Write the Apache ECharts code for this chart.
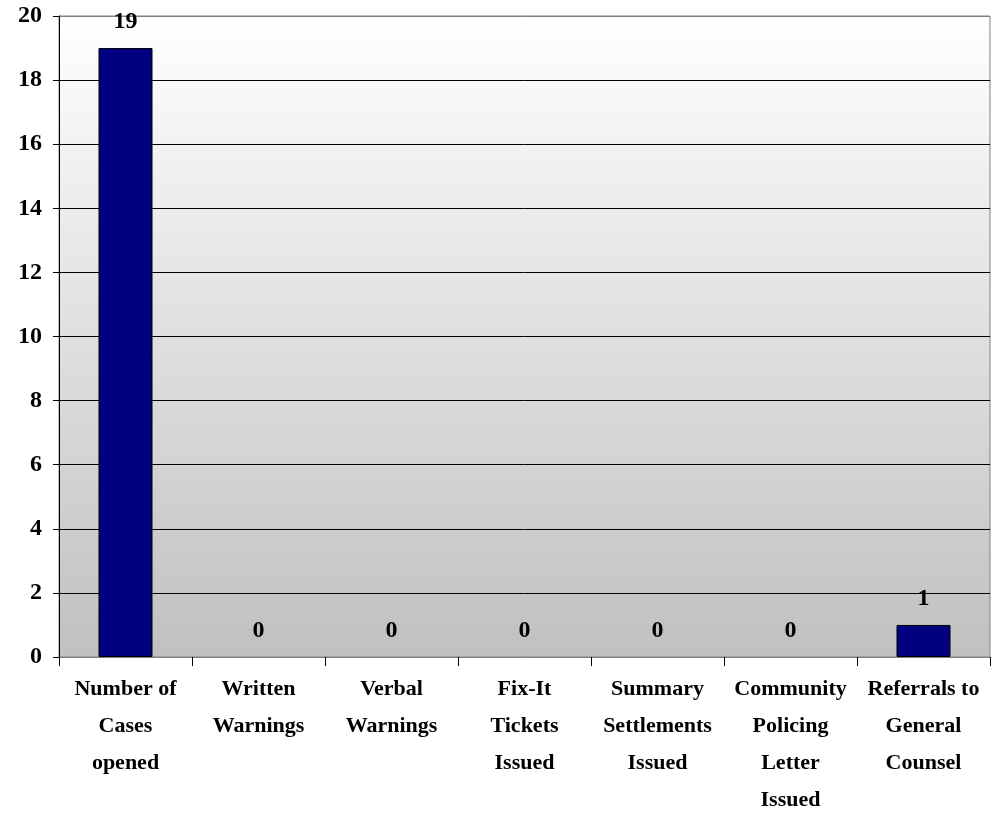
<!DOCTYPE html>
<html><head><meta charset="utf-8">
<script src="https://cdn.jsdelivr.net/npm/echarts@6/dist/echarts.min.js"></script>
<style>html,body{margin:0;padding:0;background:#fff}#c{width:1004px;height:813px}</style>
</head><body><div id="c"></div>
<script>
var categories = ["Number of\nCases\nopened","Written\nWarnings","Verbal\nWarnings","Fix-It\nTickets\nIssued","Summary\nSettlements\nIssued","Community\nPolicing\nLetter\nIssued","Referrals to\nGeneral\nCounsel"];
var values = [19,0,0,0,0,0,1];
var yTicks = [0,2,4,6,8,10,12,14,16,18,20];

var font = 'Liberation Serif';
var chart = echarts.init(document.getElementById('c'));
var splitColors = yTicks.map(function(v,i){ return (i===0||i===yTicks.length-1)?'#808080':'#000000'; });
var barData = values.map(function(v){ return {value:v, itemStyle:{borderWidth: v===0?0:1}}; });
chart.setOption({
  animation:false,
  grid:{left:59,right:14,top:16,bottom:156,outerBoundsMode:'none',containLabel:false,show:true,borderColor:'#808080',borderWidth:1,
    backgroundColor:new echarts.graphic.LinearGradient(0,0,0,1,[{offset:0,color:'#ffffff'},{offset:1,color:'#c0c0c0'}])},
  xAxis:{type:'category',data:categories,boundaryGap:true,
    axisLine:{lineStyle:{color:'#808080',width:1}},
    axisTick:{show:true,length:9,lineStyle:{color:'#000'},alignWithLabel:false},
    axisLabel:{color:'#000',fontFamily:font,fontWeight:'bold',fontSize:22,lineHeight:37,margin:14,interval:0}},
  yAxis:{type:'value',min:0,max:20,interval:2,
    axisLine:{show:true,lineStyle:{color:'#000',width:1}},
    axisTick:{show:true,length:6,lineStyle:{color:'#000'}},
    splitLine:{show:true,lineStyle:{color:splitColors,width:1}},
    axisLabel:{color:'#000',fontFamily:font,fontWeight:'bold',fontSize:24,margin:17}},
  series:[{type:'bar',data:barData,barWidth:54,
    itemStyle:{color:'#000080',borderColor:'#000',borderWidth:1},
    label:{show:true,position:'top',distance:14,color:'#000',fontFamily:font,fontWeight:'bold',fontSize:24}}]
});
</script></body></html>
